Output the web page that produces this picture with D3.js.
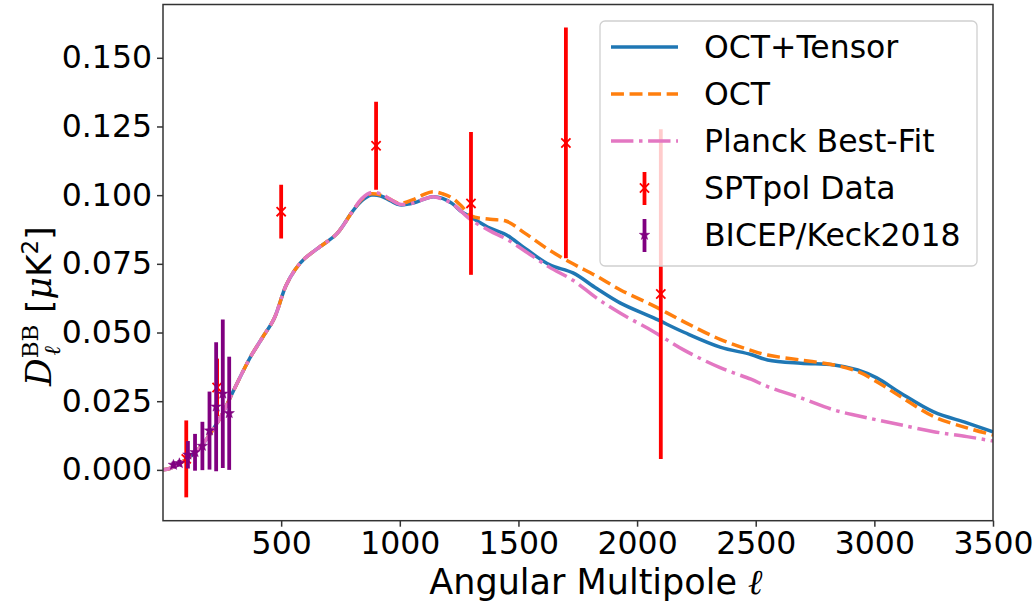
<!DOCTYPE html>
<html><head><meta charset="utf-8">
<script src="https://cdn.jsdelivr.net/npm/d3@7"></script>
<style>html,body{margin:0;padding:0;background:#fff;}svg{display:block;}</style>
</head><body>
<svg id="chart" width="1035" height="602"></svg>
<script>
// ---- data ----
const ell = [2,30,75,120,160,200,250,300,370,420,470,520,560,600,660,735,800,840,880,920,960,1000,1060,1100,1140,1180,1220,1260,1300,1380,1450,1530,1630,1730,1830,1930,2070,2200,2350,2480,2550,2690,2830,2930,3010,3110,3250,3390,3500];
const octTensor = [0,0.0005,0.0025,0.005,0.0084,0.013,0.020,0.029,0.041,0.048,0.055,0.067,0.073,0.077,0.081,0.086,0.094,0.098,0.100,0.0997,0.098,0.0965,0.0972,0.0985,0.0994,0.0988,0.097,0.094,0.092,0.088,0.0855,0.0805,0.0747,0.0717,0.066,0.0607,0.0553,0.050,0.0447,0.042,0.040,0.0388,0.0382,0.0364,0.0335,0.028,0.0211,0.0171,0.0138];
const oct = [0,0.0005,0.0025,0.005,0.0084,0.013,0.020,0.029,0.041,0.048,0.055,0.067,0.073,0.077,0.081,0.086,0.094,0.0985,0.1005,0.100,0.0985,0.097,0.0985,0.1002,0.1012,0.1005,0.099,0.096,0.0925,0.0912,0.0905,0.086,0.080,0.075,0.0705,0.0655,0.0597,0.0538,0.0475,0.0435,0.0418,0.040,0.0382,0.0358,0.0321,0.0267,0.0194,0.0153,0.0127];
const planck = [0,0.0005,0.0025,0.005,0.0084,0.013,0.020,0.029,0.041,0.048,0.055,0.067,0.073,0.077,0.081,0.086,0.094,0.0988,0.101,0.1005,0.0985,0.0967,0.0972,0.0985,0.0994,0.0985,0.097,0.094,0.091,0.087,0.084,0.0795,0.0738,0.069,0.0625,0.057,0.0503,0.0435,0.0372,0.033,0.0303,0.0262,0.0218,0.0197,0.0182,0.0164,0.0139,0.0121,0.0105];

const sptEll = [100,230,500,900,1300,1700,2100];
const sptVal = [0.004,0.030,0.094,0.118,0.097,0.119,0.064];
const sptErr = [0.014,0.0105,0.0098,0.016,0.026,0.042,0.060];

const bkEll = [46,71,107,137,168,198,226,254,281];
const bkVal = [0.0018,0.0024,0.0055,0.0064,0.0087,0.0143,0.023,0.0277,0.0206];
const bkErr = [0.0012,0.0012,0.005,0.0067,0.0088,0.0142,0.0235,0.027,0.0206];

const xTicks = [500,1000,1500,2000,2500,3000,3500];
const yTicks = [0,0.025,0.05,0.075,0.1,0.125,0.15];
const legendLabels = ["OCT+Tensor","OCT","Planck Best-Fit","SPTpol Data","BICEP/Keck2018"];

// ---- layout ----
const svg = d3.select("#chart");
const L=163, R=993, T=4.5, B=520.7;
const x = d3.scaleLinear().domain([2,3500]).range([L,R]);
const y = d3.scaleLinear().domain([-0.0185,0.1694]).range([B,T]);
const FONT = "DejaVu Sans, sans-serif";
const SERIF = "DejaVu Serif, serif";
const C = {blue:"#1f77b4", orange:"#ff7f0e", pink:"#e377c2", red:"#ff0000", purple:"#800080"};
const LW = 3.5;

svg.append("defs").append("clipPath").attr("id","clip")
  .append("rect").attr("x",L).attr("y",T).attr("width",R-L).attr("height",B-T);

const plot = svg.append("g").attr("clip-path","url(#clip)");

const line = d3.line().x(d=>x(d[0])).y(d=>y(d[1])).curve(d3.curveCatmullRom.alpha(0.5));
const series = [
  {v:octTensor, c:C.blue, dash:null},
  {v:oct, c:C.orange, dash:`${3.7*LW},${1.6*LW}`},
  {v:planck, c:C.pink, dash:`${6.4*LW},${1.6*LW},${1*LW},${1.6*LW}`}
];
series.forEach(s=>{
  plot.append("path").datum(ell.map((e,i)=>[e,s.v[i]]))
    .attr("d",line).attr("fill","none").attr("stroke",s.c)
    .attr("stroke-width",LW).attr("stroke-dasharray",s.dash);
});

function xMarker(g,cx,cy,r,color){
  g.append("path").attr("d",`M${cx-r},${cy-r}L${cx+r},${cy+r}M${cx-r},${cy+r}L${cx+r},${cy-r}`)
   .attr("stroke",color).attr("stroke-width",1.8).attr("fill","none");
}
function starMarker(g,cx,cy,r,color){
  const pts=[];
  for(let i=0;i<10;i++){
    const a=-Math.PI/2+i*Math.PI/5;
    const rr = i%2===0? r : r*0.4;
    pts.push([cx+rr*Math.cos(a), cy+rr*Math.sin(a)]);
  }
  g.append("path").attr("d","M"+pts.map(p=>p.join(",")).join("L")+"Z").attr("fill",color).attr("stroke",color).attr("stroke-width",0.5);
}

// SPTpol
sptEll.forEach((e,i)=>{
  plot.append("line").attr("x1",x(e)).attr("x2",x(e))
    .attr("y1",y(sptVal[i]-sptErr[i])).attr("y2",y(sptVal[i]+sptErr[i]))
    .attr("stroke",C.red).attr("stroke-width",3.8);
  xMarker(plot,x(e),y(sptVal[i]),4.6,C.red);
});
// BICEP/Keck
bkEll.forEach((e,i)=>{
  plot.append("line").attr("x1",x(e)).attr("x2",x(e))
    .attr("y1",y(bkVal[i]-bkErr[i])).attr("y2",y(bkVal[i]+bkErr[i]))
    .attr("stroke",C.purple).attr("stroke-width",3.8);
  starMarker(plot,x(e),y(bkVal[i]),5.5,C.purple);
});

// axes
const xAxis = svg.append("g").attr("transform",`translate(0,${B})`)
  .call(d3.axisBottom(x).tickValues(xTicks).tickFormat(d3.format("d")).tickSize(6).tickPadding(5).tickSizeOuter(0));
const yAxis = svg.append("g").attr("transform",`translate(${L},0)`)
  .call(d3.axisLeft(y).tickValues(yTicks).tickFormat(d3.format(".3f")).tickSize(6).tickPadding(5).tickSizeOuter(0));
[xAxis,yAxis].forEach(a=>{
  a.select(".domain").remove();
  a.selectAll(".tick line").attr("stroke","#333").attr("stroke-width",1.5);
  a.selectAll(".tick text").attr("font-family",FONT).attr("font-size",31.5).attr("fill","#000");
});
svg.append("rect").attr("x",L).attr("y",T).attr("width",R-L).attr("height",B-T)
  .attr("fill","none").attr("stroke","#333").attr("stroke-width",1.5);

// x label
const xl = svg.append("text").attr("x",596).attr("y",594).attr("text-anchor","middle")
  .attr("font-family",FONT).attr("font-size",35).attr("fill","#000");
xl.append("tspan").text("Angular Multipole ");
xl.append("tspan").attr("font-style","italic").attr("font-family",SERIF).text("ℓ");

// y label (rotated, drawn from bottom upwards)
const yl = svg.append("text").attr("transform",`translate(51,386) rotate(-90)`).attr("text-anchor","start")
  .attr("font-family",FONT).attr("font-size",34.5).attr("fill","#000");
yl.append("tspan").attr("font-family",SERIF).attr("font-style","italic").text("D");
yl.append("tspan").attr("font-family",SERIF).attr("font-size",23).attr("dy",-13).text("BB");
yl.append("tspan").attr("font-family",SERIF).attr("font-style","italic").attr("font-size",23).attr("dx",-31).attr("dy",22).text("ℓ");
yl.append("tspan").attr("dx",22).attr("dy",-9).text(" [");
yl.append("tspan").attr("font-family",SERIF).attr("font-style","italic").text("μ");
yl.append("tspan").text("K");
yl.append("tspan").attr("font-size",23).attr("dy",-13).text("2");
yl.append("tspan").attr("dy",13).text("]");

// legend
const lg = svg.append("g");
lg.append("rect").attr("x",600).attr("y",21).attr("width",377).attr("height",245).attr("rx",5)
  .attr("fill","#fff").attr("fill-opacity",0.8).attr("stroke","#d0d0d0").attr("stroke-width",1.3);
const rowY = [47,94,141,188,235];
const hx1=611, hx2=678;
series.forEach((s,i)=>{
  lg.append("line").attr("x1",hx1).attr("x2",hx2).attr("y1",rowY[i]).attr("y2",rowY[i])
    .attr("stroke",s.c).attr("stroke-width",LW).attr("stroke-dasharray",s.dash);
});
const hc=(hx1+hx2)/2;
lg.append("line").attr("x1",hc).attr("x2",hc).attr("y1",rowY[3]-16).attr("y2",rowY[3]+17).attr("stroke",C.red).attr("stroke-width",3.8);
xMarker(lg,hc,rowY[3],4.6,C.red);
lg.append("line").attr("x1",hc).attr("x2",hc).attr("y1",rowY[4]-16).attr("y2",rowY[4]+17).attr("stroke",C.purple).attr("stroke-width",3.8);
starMarker(lg,hc,rowY[4],5.5,C.purple);
legendLabels.forEach((t,i)=>{
  lg.append("text").attr("x",704).attr("y",rowY[i]+11).attr("font-family",FONT).attr("font-size",31.5)
    .attr("fill","#000").text(t);
});
</script>
</body></html>
